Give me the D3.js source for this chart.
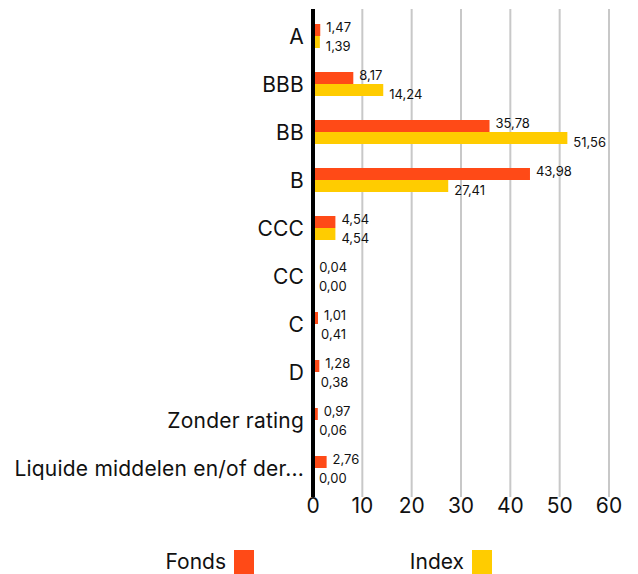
<!DOCTYPE html>
<html>
<head>
<meta charset="utf-8">
<script src="https://cdn.jsdelivr.net/npm/d3@7"></script>
<style>
  body { margin: 0; background: #fff; }
  svg text { font-family: "Inter", "Roboto", sans-serif; fill: #111; }
</style>
</head>
<body>
<div id="chart"></div>
<script>
var categories = ['A', 'BBB', 'BB', 'B', 'CCC', 'CC', 'C', 'D', 'Zonder rating', 'Liquide middelen en/of der...'];
var fonds = [1.47, 8.17, 35.78, 43.98, 4.54, 0.04, 1.01, 1.28, 0.97, 2.76];
var index = [1.39, 14.24, 51.56, 27.41, 4.54, 0.00, 0.41, 0.38, 0.06, 0.00];
var ticks = [0, 10, 20, 30, 40, 50, 60];
var seriesNames = ['Fonds', 'Index'];
var colors = ['#ff4a17', '#ffcc00'];

var width = 638, height = 574;
var margin = {top: 12, left: 313, right: 29, bottom: 82};

var svg = d3.select('#chart').append('svg')
  .attr('width', width)
  .attr('height', height);

var x = d3.scaleLinear()
  .domain([0, 60])
  .range([margin.left, width - margin.right]);

var y = d3.scaleBand()
  .domain(categories)
  .range([margin.top, height - margin.bottom]);

var fmt = function(v) { return v.toFixed(2).replace('.', ','); };

// gridlines
svg.selectAll('line.grid')
  .data(ticks.slice(1))
  .enter().append('line')
  .attr('class', 'grid')
  .attr('x1', function(d) { return x(d); })
  .attr('x2', function(d) { return x(d); })
  .attr('y1', margin.top - 3)
  .attr('y2', height - margin.bottom + 5)
  .style('stroke', '#c8c8c8')
  .style('stroke-width', 2);

var barH = 12;
var rows = categories.map(function(c, i) { return {cat: c, f: fonds[i], ix: index[i]}; });

// Fonds bars
svg.selectAll('rect.fonds')
  .data(rows)
  .enter().append('rect')
  .attr('class', 'fonds')
  .attr('x', x(0))
  .attr('y', function(d) { return y(d.cat) + y.bandwidth() / 2 - barH; })
  .attr('width', function(d) { return x(d.f) - x(0); })
  .attr('height', barH)
  .style('fill', colors[0]);

// Index bars
svg.selectAll('rect.index')
  .data(rows)
  .enter().append('rect')
  .attr('class', 'index')
  .attr('x', x(0))
  .attr('y', function(d) { return y(d.cat) + y.bandwidth() / 2; })
  .attr('width', function(d) { return x(d.ix) - x(0); })
  .attr('height', barH)
  .style('fill', colors[1]);

// value labels
svg.selectAll('text.lf')
  .data(rows)
  .enter().append('text')
  .attr('class', 'lf')
  .attr('x', function(d) { return x(d.f) + 6; })
  .attr('y', function(d) { return y(d.cat) + y.bandwidth() / 2 - 4.5; })
  .style('font-size', '13px')
  .text(function(d) { return fmt(d.f); });

svg.selectAll('text.li')
  .data(rows)
  .enter().append('text')
  .attr('class', 'li')
  .attr('x', function(d) { return x(d.ix) + 6; })
  .attr('y', function(d) { return y(d.cat) + y.bandwidth() / 2 + 15; })
  .style('font-size', '13px')
  .text(function(d) { return fmt(d.ix); });

// category labels
svg.selectAll('text.cat')
  .data(categories)
  .enter().append('text')
  .attr('class', 'cat')
  .attr('x', margin.left - 9)
  .attr('y', function(d) { return y(d) + y.bandwidth() / 2 + 7.5; })
  .attr('text-anchor', 'end')
  .style('font-size', '21px')
  .style('letter-spacing', '0.2px')
  .text(function(d) { return d; });

// zero axis line
svg.append('line')
  .attr('x1', x(0)).attr('x2', x(0))
  .attr('y1', margin.top - 3)
  .attr('y2', height - margin.bottom + 5)
  .style('stroke', '#000')
  .style('stroke-width', 4);

// x tick labels
svg.selectAll('text.tick')
  .data(ticks)
  .enter().append('text')
  .attr('class', 'tick')
  .attr('x', function(d) { return x(d); })
  .attr('y', 513)
  .attr('text-anchor', 'middle')
  .style('font-size', '21px')
  .text(function(d) { return d; });

// legend
var legendX = [226, 464];
var lg = svg.selectAll('g.legend')
  .data(seriesNames)
  .enter().append('g')
  .attr('class', 'legend');

lg.append('text')
  .attr('x', function(d, i) { return legendX[i]; })
  .attr('y', 569)
  .attr('text-anchor', 'end')
  .style('font-size', '21px')
  .text(function(d) { return d; });

lg.append('rect')
  .attr('x', function(d, i) { return legendX[i] + 8; })
  .attr('y', 550)
  .attr('width', 20)
  .attr('height', 24)
  .style('fill', function(d, i) { return colors[i]; });
</script>
</body>
</html>
